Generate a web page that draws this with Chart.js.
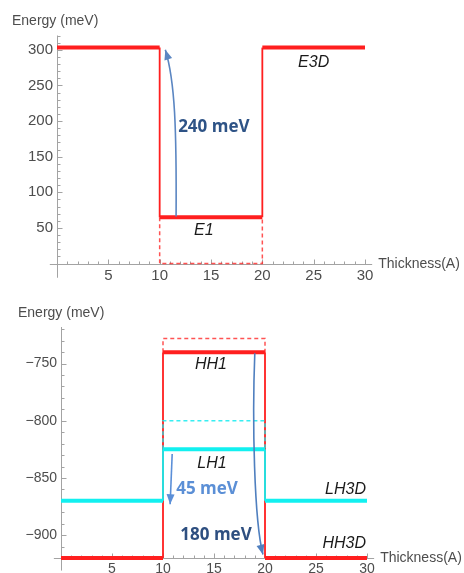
<!DOCTYPE html>
<html>
<head>
<meta charset="utf-8">
<script src="https://cdn.jsdelivr.net/npm/chart.js@4.4.0/dist/chart.umd.min.js"></script>
<style>
  body { margin: 0; background: #fff; }
  canvas { position: absolute; left: 0; }
</style>
</head>
<body>
<canvas id="topChart" width="464" height="290" style="top:0"></canvas>
<canvas id="bottomChart" width="464" height="283" style="top:290px"></canvas>
<script>
// Datos: perfil de bandas (x = espesor en A)
const wellX = [0, 10, 10, 20, 20, 30];
const boxX = [10, 10, 20, 20];

// Banda de conduccion
const conduction = [303, 303, 65, 65, 303, 303];
const e1Box = [65, 0, 0, 65];

// Banda de valencia
const heavyHole = [-920, -920, -740, -740, -920, -920];
const lightHole = [-870, -870, -825, -825, -870, -870];
const hh1Box = [-740, -728, -728, -740];
const lh1Box = [-825, -800, -800, -825];

// Ticks
const thicknessTicks = [5, 10, 15, 20, 25, 30];
const topEnergyTicks = [50, 100, 150, 200, 250, 300];
const bottomEnergyTicks = [-900, -850, -800, -750];

const RED = '#ff1f1f';
const CYAN = '#12f0f0';

const profile = ys => wellX.map((x, i) => ({ x, y: ys[i] }));
const box = ys => boxX.map((x, i) => ({ x, y: ys[i] }));

function stepLine(ys, color) {
    return {
        data: profile(ys),
        borderColor: color,
        borderWidth: 4,
        pointRadius: 0,
        showLine: true,
        clip: false,
        segment: {
            // horizontales gruesas, verticales finas
            borderWidth: c => c.p0.parsed.y === c.p1.parsed.y ? 4 : 1.8
        }
    };
}

function dashLine(ys, color) {
    return {
        data: box(ys),
        borderColor: color,
        borderWidth: 1.5,
        borderDash: [4, 3],
        pointRadius: 0,
        showLine: true,
        clip: false
    };
}

// Ejes estilo Mathematica (cruzan en el origen, ticks hacia adentro)
const axesPlugin = {
    id: 'axes',
    beforeDatasetsDraw(chart, args, opts) {
        const { ctx, scales: { x, y } } = chart;
        const x0 = Math.round(x.getPixelForValue(0)) + 0.5;
        const ya = Math.round(y.getPixelForValue(opts.xAxisAt)) + 0.5;
        const xEnd = x.getPixelForValue(30.7);
        ctx.save();
        ctx.strokeStyle = '#a3a3a3';
        ctx.lineWidth = 1;
        ctx.beginPath();
        ctx.moveTo(x.getPixelForValue(-0.7), ya);
        ctx.lineTo(xEnd, ya);
        ctx.moveTo(x0, y.getPixelForValue(opts.yFrom));
        ctx.lineTo(x0, y.top);
        for (let v = 1; v <= 30; v++) {
            const p = Math.round(x.getPixelForValue(v)) + 0.5;
            ctx.moveTo(p, ya);
            ctx.lineTo(p, ya - (v % 5 ? 3 : 5));
        }
        for (let v = opts.xAxisAt + 10; v <= y.max; v += 10) {
            const p = Math.round(y.getPixelForValue(v)) + 0.5;
            ctx.moveTo(x0, p);
            ctx.lineTo(x0 + (v % 50 ? 3 : 5), p);
        }
        ctx.stroke();

        ctx.fillStyle = '#4d4d4d';
        ctx.font = '14px "Liberation Sans"';
        ctx.textBaseline = 'middle';
        ctx.textAlign = 'left';
        ctx.fillText('Energy (meV)', opts.yTitle[0], opts.yTitle[1]);
        ctx.fillText('Thickness(A)', xEnd + 6, ya);
        ctx.restore();
    }
};

function drawArrow(chart, a) {
    const { ctx } = chart;
    const pts = a.path.map(p => [chart.scales.x.getPixelForValue(p[0]), chart.scales.y.getPixelForValue(p[1])]);
    ctx.save();
    ctx.strokeStyle = a.color;
    ctx.fillStyle = a.color;
    ctx.lineWidth = 1.6;
    ctx.beginPath();
    ctx.moveTo(pts[0][0], pts[0][1]);
    if (pts.length === 4) {
        ctx.bezierCurveTo(pts[1][0], pts[1][1], pts[2][0], pts[2][1], pts[3][0], pts[3][1]);
    } else {
        ctx.lineTo(pts[1][0], pts[1][1]);
    }
    ctx.stroke();
    const end = pts[pts.length - 1], prev = pts[pts.length - 2];
    const ang = Math.atan2(end[1] - prev[1], end[0] - prev[0]);
    const L = 10, W = 4;
    const c = Math.cos(ang), s = Math.sin(ang);
    ctx.beginPath();
    ctx.moveTo(end[0], end[1]);
    ctx.lineTo(end[0] - L * c + W * s, end[1] - L * s - W * c);
    ctx.lineTo(end[0] - L * c - W * s, end[1] - L * s + W * c);
    ctx.closePath();
    ctx.fill();
    ctx.restore();
}

const notesPlugin = {
    id: 'notes',
    afterDatasetsDraw(chart, args, opts) {
        const { ctx, scales: { x, y } } = chart;
        (opts.arrows || []).forEach(a => drawArrow(chart, a));
        ctx.save();
        ctx.textBaseline = 'middle';
        (opts.texts || []).forEach(t => {
            ctx.font = t.font;
            ctx.fillStyle = t.color;
            ctx.textAlign = t.align || 'center';
            ctx.fillText(t.text, x.getPixelForValue(t.at[0]), y.getPixelForValue(t.at[1]));
        });
        ctx.restore();
    }
};

const ITALIC = 'italic 16px "Liberation Sans"';
const BOLD = 'bold 17px "Open Sans"';

const topArrows = [
    { path: [[11.6, 66], [11.65, 187], [11.5, 256], [10.55, 300]], color: '#5b86c2' }
];
const topTexts = [
    { text: '240 meV', at: [11.8, 191], font: BOLD, color: '#2e5386', align: 'left' },
    { text: 'E1', at: [14.3, 46], font: ITALIC, color: '#1a1a1a' },
    { text: 'E3D', at: [25.0, 282], font: ITALIC, color: '#1a1a1a' }
];

const bottomArrows = [
    { path: [[19.0, -741], [18.74, -800], [18.93, -887], [19.8, -917]], color: '#4f7fbf' },
    { path: [[10.9, -829], [10.7, -873]], color: '#5b8fd8' }
];
const bottomTexts = [
    { text: 'HH1', at: [14.7, -751], font: ITALIC, color: '#1a1a1a' },
    { text: 'LH1', at: [14.8, -837], font: ITALIC, color: '#1a1a1a' },
    { text: 'LH3D', at: [29.9, -860], font: ITALIC, color: '#1a1a1a', align: 'right' },
    { text: 'HH3D', at: [29.9, -907], font: ITALIC, color: '#1a1a1a', align: 'right' },
    { text: '45 meV', at: [11.3, -860], font: BOLD, color: '#5b8fd6', align: 'left' },
    { text: '180 meV', at: [11.7, -900], font: BOLD, color: '#2e4f80', align: 'left' }
];

function axisOptions(ticks, min, max, fit, padding, size) {
    return {
        type: 'linear',
        min, max,
        afterBuildTicks: s => { s.ticks = ticks.map(v => ({ value: v })); },
        afterFit: fit,
        grid: { display: false, drawTicks: false, tickLength: 0 },
        border: { display: false },
        ticks: {
            padding,
            color: '#4d4d4d',
            font: { family: 'Liberation Sans', size },
            callback: v => String(v).replace('-', '\u2212')
        }
    };
}

function baseOptions(padding, scales, axes, notes) {
    return {
        responsive: false,
        animation: false,
        layout: { padding },
        scales,
        plugins: {
            legend: { display: false },
            tooltip: { enabled: false },
            axes,
            notes
        }
    };
}

new Chart(document.getElementById('topChart'), {
    type: 'scatter',
    data: {
        datasets: [
            dashLine(e1Box, 'rgba(255,40,40,0.8)'),
            stepLine(conduction, RED)
        ]
    },
    options: baseOptions(
        { top: 35.5, right: 99, left: 0, bottom: 0 },
        {
            x: axisOptions(thicknessTicks, 0, 30, s => { s.height = 26.5; }, 3, 15),
            y: axisOptions(topEnergyTicks, 0, 320, s => { s.width = 57; }, 4, 15)
        },
        { xAxisAt: 0, yFrom: -20, yTitle: [12, 21] },
        { arrows: topArrows, texts: topTexts }
    ),
    plugins: [axesPlugin, notesPlugin]
});

new Chart(document.getElementById('bottomChart'), {
    type: 'scatter',
    data: {
        datasets: [
            dashLine(lh1Box, 'rgba(20,235,240,0.85)'),
            dashLine(hh1Box, 'rgba(255,40,40,0.8)'),
            stepLine(lightHole, CYAN),
            stepLine(heavyHole, RED)
        ]
    },
    options: baseOptions(
        { top: 37, right: 97, left: 0, bottom: 0 },
        {
            x: axisOptions(thicknessTicks, 0, 30, s => { s.height = 15; }, 3, 14),
            y: axisOptions(bottomEnergyTicks, -920, -718, s => { s.width = 61; }, 4, 14)
        },
        { xAxisAt: -920, yFrom: -931, yTitle: [18, 23] },
        { arrows: bottomArrows, texts: bottomTexts }
    ),
    plugins: [axesPlugin, notesPlugin]
});
</script>
</body>
</html>
